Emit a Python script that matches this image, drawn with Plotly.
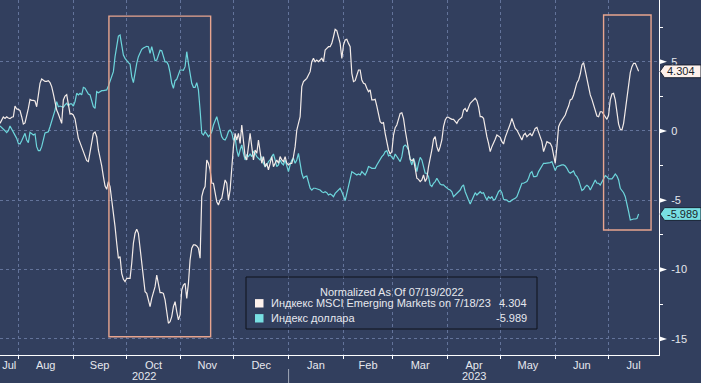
import pandas as pd
import plotly.graph_objects as go

# ---------------- data ----------------
em_msci = [
    0.55, 0.84, 1.01, 0.91, 1.03, 0.94, 0.89, 0.99, 1.03, 1.80,
    1.59, 1.56, 1.47, 1.03, 0.50, 0.58, 1.03, 1.63, 2.28, 2.21,
    2.21, 2.16, 1.75, 2.84, 3.44, 3.75, 3.65, 3.58, 3.58, 3.63,
    3.49, 3.20, 2.67, 2.12, 1.51, 1.23, 0.91, 0.55, 2.24, 2.52,
    2.62, 1.75, 1.23, 1.25, 1.15, 0.87, 0.07, -0.53, -0.84, -1.13,
    -1.47, -1.80, -2.14, -2.21, -1.61, -0.77, -0.17, -0.07, -0.41, -1.37,
    -1.90, -2.52, -3.29, -3.97, -4.21, -3.65,
    -4.01, -4.98, -5.70, -6.90, -8.10, -9.18, -9.06, -10.27, -10.70, -10.87,
    -10.63, -10.63, -10.63, -9.54, -8.10, -7.38, -7.09, -7.38, -8.34, -9.54,
    -10.51, -11.59, -11.71, -12.19, -12.67, -12.07, -11.71, -11.23, -10.39, -10.99,
    -11.66, -11.66, -11.71, -12.19, -13.15, -13.87, -13.75, -13.39, -12.67, -12.31,
    -13.03, -13.63, -13.27, -11.47, -11.11, -10.99, -12.07, -10.99, -9.30, -8.46,
    -8.22, -8.22, -8.29, -8.46, -9.18, -4.74, -4.26, -4.01, -2.09, -2.33,
    -2.81, -3.77, -3.77, -4.38, -5.10, -5.34,
    -4.98, -4.86, -4.01, -3.53, -3.77, -4.98, -4.26, -2.45, -1.13, -0.17,
    -0.65, -0.17, -0.89, 0.43, -0.65, -1.85, -2.09, -1.13, -0.17, -1.13,
    -2.09, -1.37, -1.61, -0.65, -1.61, -2.33, -1.85, -2.57, -2.33, -2.81,
    -2.33, -1.85, -2.57, -2.33, -2.09, -2.33, -1.85, -2.09, -2.21, -1.85,
    -2.33, -2.45, -2.33, -2.33, -1.85, -1.13, 0.07, 0.55, 1.03, 3.20,
    3.56, 3.68, 3.80, 4.04, 4.28, 5.00, 5.24, 5.00, 5.12, 5.00,
    5.12, 5.24, 5.00, 5.84, 5.96, 6.08,
    6.08, 6.32, 6.80, 7.33, 7.24, 6.80, 6.32, 5.24, 6.20, 6.56,
    6.61, 6.32, 6.08, 4.16, 3.56, 3.63, 3.97, 4.40, 4.40, 3.68,
    3.44, 3.39, 3.08, 2.84, 2.96, 2.24, 2.24, 2.28, 1.80, 1.27,
    0.67, 0.55, 0.60, -0.17, -0.84, -1.37, -1.66, -1.49, -0.29, 0.24,
    0.43, 0.91, 1.27, 1.32, 0.91, 0.07, -0.60, -1.25, -2.04, -2.14,
    -2.04, -2.69, -3.41, -3.49, -3.65, -3.53, -3.17, -3.65, -3.41, -2.57,
    -2.04, -1.37, -0.60, -0.41, -1.13, -1.49,
    -1.13, -0.65, 0.31, 0.79, 0.99, 0.99, 0.91, 0.84, 0.84, 0.67,
    0.55, 0.79, 0.91, 0.99, 1.51, 1.63, 1.39, 1.75, 2.00, 2.12,
    2.28, 2.36, 2.19, 1.75, 1.03, 1.03, 0.91, 0.07, -0.41, -0.89,
    -1.49, -1.13, -0.89, -0.60, -0.29, -0.41, -0.46, -0.77, -0.94, -0.46,
    -0.17, 0.12, 0.50, 0.91, 0.55, 0.19, 0.07, -0.17, -0.36, -0.65,
    -0.29, -0.17, -0.41, -0.29, -0.17, -0.36, -0.05, 0.19, 0.26, -0.05,
    -0.41, -0.77, -1.49, -1.13, -0.77, -0.84,
    -0.89, -1.13, -1.85, -2.33, -1.13, 0.31, 0.60, 0.79, 0.91, 1.15,
    1.51, 1.80, 2.24, 2.31, 2.60, 3.15, 3.49, 3.68, 4.11, 4.76,
    4.93, 4.35, 3.68, 3.08, 2.60, 2.28, 1.88, 1.39, 1.08, 1.03,
    1.39, 1.39, 1.23, 1.03, 0.84, 1.15, 2.24, 2.67, 2.72, 2.24,
    1.27, 0.50, 0.12, 0.07, 0.55, 1.51, 2.24, 3.20, 4.21, 4.64,
    4.88, 4.88, 4.52, 4.304,
]

dollar_index = [
    0.36, 0.26, 0.12, 0.02, -0.12, 0.02, 0.36, 0.12, -0.12, -0.29,
    -0.53, -0.89, -0.94, -0.70, -0.41, -0.17, -0.65, -0.84, -0.10, -0.17,
    -0.29, -0.22, -1.13, -1.42, -1.42, -1.13, -0.53, -0.14, -0.10, -0.05,
    0.31, 0.67, 1.15, 1.51, 2.12, 1.75, 1.80, 1.75, 1.71, 1.88,
    2.00, 1.80, 1.95, 1.95, 1.80, 2.12, 2.72, 2.60, 2.72, 2.60,
    3.15, 3.08, 2.91, 2.67, 2.60, 2.12, 1.75, 1.63, 2.84, 2.76,
    2.84, 2.91, 2.91, 2.91, 2.96, 3.25,
    3.63, 3.87, 4.28, 5.36, 6.08, 6.85, 6.92, 6.20, 5.48, 5.24,
    5.07, 4.93, 4.83, 3.92, 3.49, 4.28, 4.88, 5.36, 5.65, 5.89,
    5.99, 6.06, 6.11, 6.08, 5.60, 6.08, 5.48, 5.07, 5.12, 5.48,
    5.82, 5.79, 5.31, 4.98, 4.98, 4.76, 4.21, 3.44, 3.08, 3.63,
    3.73, 4.11, 4.40, 4.40, 4.38, 4.64, 5.72, 4.88, 4.04, 3.44,
    3.15, 3.15, 3.49, 2.96, 1.51, -0.17, -0.29, -0.05, -0.22, -0.41,
    -0.29, -0.05, 0.43, 0.79, 1.03, 0.55,
    0.02, -0.41, -0.60, -0.65, -0.41, -0.05, 0.07, -0.12, -0.65, -0.46,
    -1.37, -1.85, -1.37, -1.01, -1.61, -2.09, -1.73, -1.85, -1.66, -1.85,
    -1.49, -1.61, -1.85, -1.97, -2.09, -1.85, -2.33, -2.57, -2.45, -2.21,
    -2.09, -1.85, -1.66, -2.09, -2.57, -2.45, -2.09, -2.33, -2.45, -2.09,
    -2.45, -2.93, -2.45, -2.09, -1.97, -2.33, -2.09, -1.61, -2.33, -3.05,
    -3.41, -3.29, -3.25, -3.65, -4.13, -4.26, -4.13, -4.13, -4.16, -4.21,
    -4.26, -4.38, -4.45, -4.38, -4.45, -4.62,
    -4.54, -4.62, -4.74, -4.50, -4.38, -4.26, -4.13, -4.38, -4.74, -5.02,
    -4.50, -4.01, -3.53, -2.93, -3.01, -3.10, -3.17, -3.10, -3.17, -2.93,
    -3.05, -3.17, -2.93, -2.57, -2.62, -2.69, -2.69, -2.69, -2.45, -2.21,
    -2.04, -1.85, -1.73, -1.49, -1.42, -1.80, -1.73, -1.85, -2.04, -1.66,
    -1.85, -1.97, -2.21, -1.85, -1.13, -1.01, -1.13, -1.37, -2.09, -2.45,
    -1.97, -2.33, -2.93, -2.33, -1.90, -2.09, -2.57, -3.05, -3.05, -3.29,
    -3.89, -4.01, -3.77, -3.65, -3.41, -3.65,
    -3.82, -3.89, -3.89, -4.01, -4.13, -4.21, -4.26, -4.38, -4.74, -4.62,
    -4.50, -4.45, -4.26, -4.01, -3.89, -4.38, -4.62, -4.98, -5.26, -4.98,
    -4.62, -4.45, -4.62, -4.50, -4.38, -4.50, -4.45, -4.74, -4.98, -4.74,
    -4.86, -4.74, -4.98, -4.93, -4.62, -4.38, -4.26, -4.45, -4.93, -4.98,
    -4.98, -5.10, -5.10, -4.98, -4.93, -4.86, -4.74, -4.38, -4.01, -3.77,
    -3.77, -3.73, -3.65, -3.41, -3.05, -2.93, -3.29, -3.29, -3.25, -2.93,
    -2.69, -2.45, -2.33, -2.33, -2.33, -2.33,
    -2.28, -2.21, -2.57, -2.86, -2.57, -2.52, -2.50, -2.45, -2.45, -2.52,
    -2.69, -2.93, -3.05, -2.93, -2.88, -3.17, -3.29, -3.53, -3.89, -4.30,
    -4.21, -4.01, -3.92, -4.01, -4.26, -4.01, -3.77, -3.53, -3.77, -3.77,
    -3.89, -3.65, -3.41, -3.22, -3.29, -3.46, -3.46, -3.46, -3.29, -3.10,
    -3.25, -3.53, -4.13, -4.26, -4.45, -4.74, -5.22, -5.82, -6.42, -6.37,
    -6.35, -6.35, -6.32, -5.989,
]

# evenly spaced sample times of the traced values
sample_start = "2022-07-21 15:00"
sample_end = "2023-07-18 04:00"

series_names = ["Индкекс MSCI Emerging Markets on 7/18/23", "Индекс доллара"]
last_labels = ["4.304", "-5.989"]
legend_title = "Normalized As Of 07/19/2022"
year_labels = ["2022", "2023"]
y_tick_vals = [5, 0, -5, -10, -15]
y_tick_text = ["5", "0", "-5", "-10", "-15"]
y_minor_vals = [7.5, 2.5, -2.5, -7.5, -12.5]
x_start = "2022-07-21 15:00"
x_end = "2023-07-29 17:00"
highlights = [
    ("2022-09-21 07:00", "2022-11-17 21:00", -14.84, 8.29),
    ("2023-06-28 08:00", "2023-07-25 05:00", -7.14, 8.37),
]

# ---------------- styling ----------------
W, H = 701, 383
ML, MR, MT, MB = 0, 42, 0, 28
PW, PH = W - ML - MR, H - MT - MB
Y_RANGE = [-16.16, 9.45]
BG = "#323f5e"
GRID = "#63739a"
C_EM = "#f3ebe8"
C_DXY = "#6dd6dc"
C_BOX = "#e8a58f"
TXT = "#e6e8ee"
FONT = "Liberation Sans"

def px(X):
    return (X - ML) / PW

def py(Y):
    return 1 - (Y - MT) / PH

def dy(pixels):
    return pixels * (Y_RANGE[1] - Y_RANGE[0]) / PH

assert len(em_msci) == len(dollar_index)
dates = pd.date_range(sample_start, sample_end, periods=len(em_msci))

fig = go.Figure()
fig.add_trace(go.Scatter(x=dates, y=dollar_index, mode="lines",
                         line=dict(color=C_DXY, width=1.2), name=series_names[1]))
fig.add_trace(go.Scatter(x=dates, y=em_msci, mode="lines",
                         line=dict(color=C_EM, width=1.2), name=series_names[0]))

# month / year label positions: centre of the visible part of each period
x0, x1 = pd.Timestamp(x_start), pd.Timestamp(x_end)
months = pd.date_range("2022-07-01", "2023-08-01", freq="MS")
m_centers, m_text = [], []
for a, b in zip(months[:-1], months[1:]):
    lo, hi = max(a, x0), min(b, x1)
    m_centers.append(lo + (hi - lo) / 2)
    m_text.append(a.strftime("%b"))
years = [pd.Timestamp("2022-01-01"), pd.Timestamp("2023-01-01"), pd.Timestamp("2024-01-01")]
y_centers = []
for a, b in zip(years[:-1], years[1:]):
    lo, hi = max(a, x0), min(b, x1)
    y_centers.append(lo + (hi - lo) / 2)

shapes = []
annotations = []

# highlight boxes
for (a, b, lo, hi) in highlights:
    shapes.append(dict(type="rect", xref="x", yref="y", x0=a, x1=b, y0=lo, y1=hi,
                       line=dict(color=C_BOX, width=1.4), fillcolor="rgba(0,0,0,0)", layer="above"))

# tick flags on right axis
for v in y_tick_vals:
    h = dy(2.6)
    shapes.append(dict(type="path", xref="paper", yref="y",
                       path=f"M {px(659)},{v - h} L {px(667)},{v} L {px(659)},{v + h} Z",
                       fillcolor="white", line=dict(width=0)))

# year separator below the axis
shapes.append(dict(type="line", xref="x", yref="paper", x0="2023-01-01", x1="2023-01-01",
                   y0=py(369), y1=py(383), line=dict(color="#a0a8b8", width=1)))
for c, t in zip(y_centers, year_labels):
    annotations.append(dict(x=c, y=py(376), xref="x", yref="paper", text=t, showarrow=False,
                            font=dict(family=FONT, size=11, color=TXT), xanchor="center", yanchor="middle"))

# last-value tags
for val, lab, bg in zip([em_msci[-1], dollar_index[-1]], last_labels, ["#fdf1ec", "#78dfe2"]):
    h = dy(6.4)
    path = (f"M {px(660)},{val} L {px(664.5)},{val + h} L {px(701)},{val + h} "
            f"L {px(701)},{val - h} L {px(664.5)},{val - h} Z")
    shapes.append(dict(type="path", xref="paper", yref="y", path=path, fillcolor=bg,
                       line=dict(color="#1a2233", width=1), layer="above"))
    annotations.append(dict(x=px(665), y=val, xref="paper", yref="y", text=lab, showarrow=False,
                            xanchor="left", yanchor="middle",
                            font=dict(family=FONT, size=11, color="#1a1f2b")))

# custom legend
shapes.append(dict(type="rect", xref="paper", yref="paper", x0=px(246), x1=px(537),
                   y0=py(329), y1=py(277), line=dict(color="#0f131b", width=1),
                   fillcolor="rgba(0,0,0,0)", layer="above"))
annotations.append(dict(x=px(391.5), y=py(291.5), xref="paper", yref="paper", text=legend_title,
                        showarrow=False, xanchor="center", yanchor="middle",
                        font=dict(family=FONT, size=11, color=TXT)))
for i, (name, lab, col) in enumerate(zip(series_names, last_labels, ["#fdf1ec", "#78dfe2"])):
    yc = 303.3 + 15 * i
    shapes.append(dict(type="rect", xref="paper", yref="paper", x0=px(255), x1=px(263.5),
                       y0=py(yc + 4.2), y1=py(yc - 4.2), fillcolor=col,
                       line=dict(width=0), layer="above"))
    annotations.append(dict(x=px(268.5), y=py(yc), xref="paper", yref="paper", text=name,
                            showarrow=False, xanchor="left", yanchor="middle",
                            font=dict(family=FONT, size=11, color=TXT)))
    annotations.append(dict(x=px(529), y=py(yc), xref="paper", yref="paper", text=lab,
                            showarrow=False, xanchor="right", yanchor="middle",
                            font=dict(family=FONT, size=11, color=TXT)))

fig.update_layout(
    width=W, height=H,
    margin=dict(l=ML, r=MR, t=MT, b=MB),
    paper_bgcolor=BG, plot_bgcolor=BG,
    showlegend=False,
    hovermode=False,
    font=dict(family=FONT, size=11, color=TXT),
    shapes=shapes, annotations=annotations,
    xaxis=dict(
        type="date", range=[x_start, x_end],
        tickmode="array", tickvals=m_centers, ticktext=m_text, ticks="",
        showgrid=False, zeroline=False,
        showline=True, linecolor="white", linewidth=1,
        tickfont=dict(family=FONT, size=11, color=TXT),
        minor=dict(tickmode="linear", tick0="2022-08-01", dtick="M1", ticks="outside",
                   ticklen=3, tickcolor="white", tickwidth=1,
                   showgrid=True, gridcolor=GRID, griddash="dot", gridwidth=1),
    ),
    yaxis=dict(
        side="right", range=Y_RANGE,
        tickmode="array", tickvals=y_tick_vals, ticktext=y_tick_text, ticks="",
        ticklabelstandoff=9,
        showgrid=True, gridcolor=GRID, griddash="dot", gridwidth=1, zeroline=False,
        showline=True, linecolor="white", linewidth=1,
        tickfont=dict(family=FONT, size=11, color=TXT),
        minor=dict(tickmode="array", tickvals=y_minor_vals, ticks="outside", ticklen=3,
                   tickcolor="white", tickwidth=1, showgrid=False),
    ),
)

fig.write_html("out.html",
               config={"displayModeBar": False, "staticPlot": True},
               post_script="document.body.style.margin='0px';document.body.style.background='" + BG + "';")
